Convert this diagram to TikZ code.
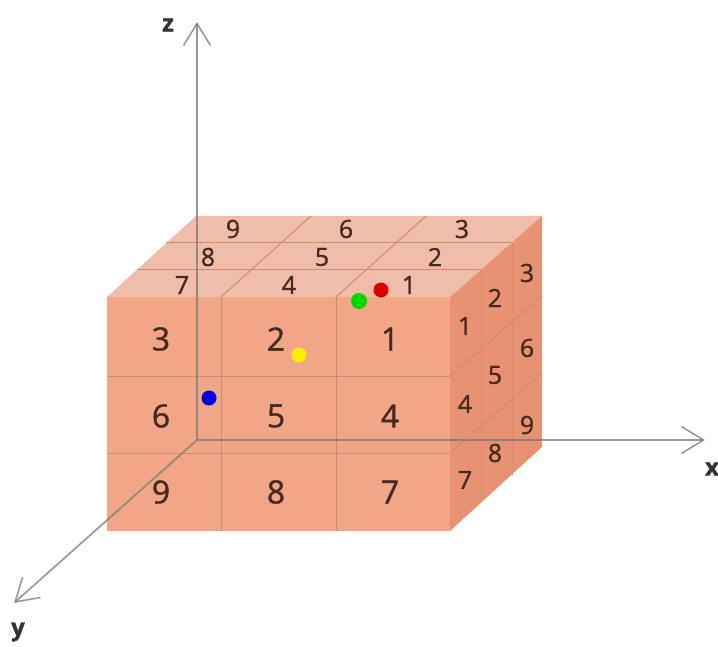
\documentclass[tikz,border=0pt]{standalone}
\usepackage{fontspec}
\setmainfont{Open Sans}[FakeBold=1.1]
\usetikzlibrary{arrows.meta}
\definecolor{frontface}{HTML}{F1A688}
\definecolor{topface}{HTML}{EFBDA9}
\definecolor{sideface}{HTML}{E79373}
\definecolor{gridline}{HTML}{CF8A6F}
\definecolor{axisline}{HTML}{7D7672}
\definecolor{digit}{HTML}{47291F}
\begin{document}
\begin{tikzpicture}[
    x=1pt, y=-1pt,
    bignum/.style={font=\fontsize{32}{38}\selectfont, text=digit, inner sep=0pt},
    topnum/.style={font=\fontsize{25}{30}\selectfont, text=digit, inner sep=0pt},
    sidenum/.style={font=\fontsize{25}{30}\selectfont, text=digit, inner sep=0pt},
    axislabel/.style={font=\bfseries\fontsize{24}{28}\selectfont, text=black!80, inner sep=0pt},
    grid/.style={draw=gridline, line width=1pt},
    sidegrid/.style={draw=gridline, line width=1pt, opacity=0.6},
    axis/.style={draw=axisline, line width=1.7pt, opacity=0.75, ->},
    dot/.style={circle, minimum size=15pt, inner sep=0pt},
    >={Straight Barb[length=22pt, width=27pt, line width=1.6pt]}
]
\useasboundingbox (0,0) rectangle (718,647);

% Corners
\coordinate (o) at (197,440);
\coordinate (zend) at (197,22);
\coordinate (xend) at (705,440);
\coordinate (yend) at (14,603);

% Faces
\fill[frontface] (107,297) rectangle (450,531);
\fill[topface] (107,297) -- (196,216) -- (542,216) -- (450,297) -- cycle;
\fill[sideface] (450,297) -- (542,216) -- (542,447) -- (450,531) -- cycle;

% Front grid
\draw[grid] (221,297) -- (221,531);
\draw[grid] (336,297) -- (336,531);
\draw[grid] (107,376) -- (450,376);
\draw[grid] (107,453) -- (450,453);

% Top grid
\draw[grid] (221,297) -- (311,216);
\draw[grid] (336,297) -- (426,216);
\draw[grid] (166,243) -- (512,243);
\draw[grid] (137,270) -- (481,270);

% Side grid
\draw[sidegrid] (481,270) -- (481,503);
\draw[sidegrid] (512,243) -- (512,476);
\draw[grid] (450,376) -- (542,296);
\draw[grid] (450,453) -- (542,373);

% Axes
\draw[axis] (o) -- (zend);
\draw[axis] (o) -- (xend);
\draw[axis] (o) -- (yend);

\node[axislabel] (zlabel) at (168,25) {z};
\node[axislabel] (xlabel) at (712,469) {x};
\node[axislabel] (ylabel) at (18,632) {y};

% Front numbers
\node[bignum] (f3) at (161,339) {3};
\node[bignum] (f2) at (276,339) {2};
\node[bignum] (f1) at (390,339) {1};
\node[bignum] (f6) at (161,416) {6};
\node[bignum] (f5) at (276,416) {5};
\node[bignum] (f4) at (390,416) {4};
\node[bignum] (f9) at (161,492) {9};
\node[bignum] (f8) at (276,492) {8};
\node[bignum] (f7) at (390,492) {7};

% Top numbers
\node[topnum] (t9) at (233,229) {9};
\node[topnum] (t6) at (346,229) {6};
\node[topnum] (t3) at (462,229) {3};
\node[topnum] (t8) at (208,257) {8};
\node[topnum] (t5) at (322,257) {5};
\node[topnum] (t2) at (435,257) {2};
\node[topnum] (t7) at (182,285) {7};
\node[topnum] (t4) at (289,285) {4};
\node[topnum] (t1) at (409,285) {1};

% Side numbers
\node[sidenum] (s1) at (465,326) {1};
\node[sidenum] (s2) at (495,298) {2};
\node[sidenum] (s3) at (527,273) {3};
\node[sidenum] (s4) at (465,404) {4};
\node[sidenum] (s5) at (495,375) {5};
\node[sidenum] (s6) at (527,348) {6};
\node[sidenum] (s7) at (465,480) {7};
\node[sidenum] (s8) at (495,453) {8};
\node[sidenum] (s9) at (527,425) {9};

% Dots
\node[dot, fill=red!85!black] (reddot) at (381,290) {};
\node[dot, fill=green!85!black, minimum size=16pt] (greendot) at (359,301) {};
\node[dot, fill=yellow!95!orange] (yellowdot) at (299,355) {};
\node[dot, fill=blue!85!black] (bluedot) at (209,398) {};
\end{tikzpicture}
\end{document}
